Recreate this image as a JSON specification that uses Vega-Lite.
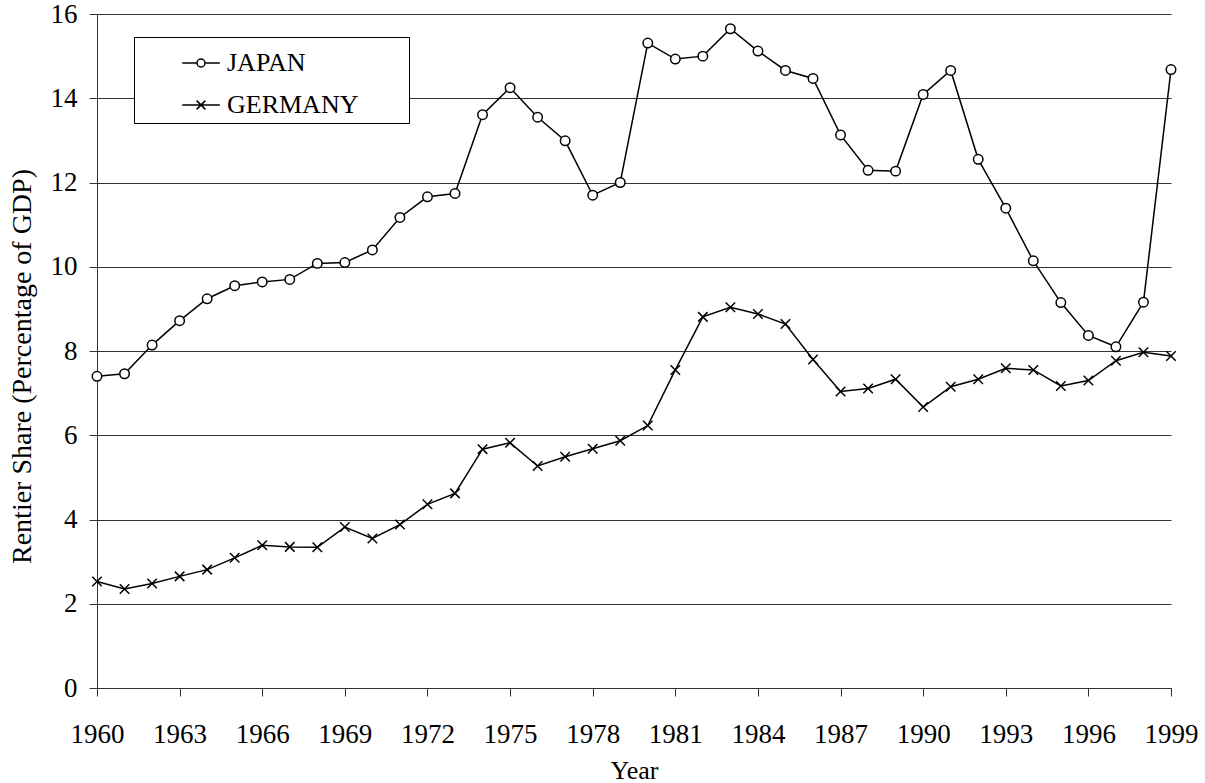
{
  "$schema": "https://vega.github.io/schema/vega-lite/v6.json",
  "width": 1074,
  "height": 674,
  "autosize": {"type": "none"},
  "padding": {"left": 97, "top": 14, "right": 34, "bottom": 95},
  "background": "white",
  "config": {"view": {"stroke": null}, "font": "Liberation Serif"},
  "datasets": {
    "rows": [
      {"year": 1960, "country": "JAPAN", "value": 7.40},
      {"year": 1961, "country": "JAPAN", "value": 7.46},
      {"year": 1962, "country": "JAPAN", "value": 8.14},
      {"year": 1963, "country": "JAPAN", "value": 8.72},
      {"year": 1964, "country": "JAPAN", "value": 9.24},
      {"year": 1965, "country": "JAPAN", "value": 9.55},
      {"year": 1966, "country": "JAPAN", "value": 9.64},
      {"year": 1967, "country": "JAPAN", "value": 9.70},
      {"year": 1968, "country": "JAPAN", "value": 10.08},
      {"year": 1969, "country": "JAPAN", "value": 10.10},
      {"year": 1970, "country": "JAPAN", "value": 10.40},
      {"year": 1971, "country": "JAPAN", "value": 11.17},
      {"year": 1972, "country": "JAPAN", "value": 11.66},
      {"year": 1973, "country": "JAPAN", "value": 11.74},
      {"year": 1974, "country": "JAPAN", "value": 13.61},
      {"year": 1975, "country": "JAPAN", "value": 14.25},
      {"year": 1976, "country": "JAPAN", "value": 13.55},
      {"year": 1977, "country": "JAPAN", "value": 12.99},
      {"year": 1978, "country": "JAPAN", "value": 11.70},
      {"year": 1979, "country": "JAPAN", "value": 12.00},
      {"year": 1980, "country": "JAPAN", "value": 15.31},
      {"year": 1981, "country": "JAPAN", "value": 14.93},
      {"year": 1982, "country": "JAPAN", "value": 15.00},
      {"year": 1983, "country": "JAPAN", "value": 15.65},
      {"year": 1984, "country": "JAPAN", "value": 15.12},
      {"year": 1985, "country": "JAPAN", "value": 14.66},
      {"year": 1986, "country": "JAPAN", "value": 14.47},
      {"year": 1987, "country": "JAPAN", "value": 13.13},
      {"year": 1988, "country": "JAPAN", "value": 12.29},
      {"year": 1989, "country": "JAPAN", "value": 12.27},
      {"year": 1990, "country": "JAPAN", "value": 14.09},
      {"year": 1991, "country": "JAPAN", "value": 14.66},
      {"year": 1992, "country": "JAPAN", "value": 12.55},
      {"year": 1993, "country": "JAPAN", "value": 11.39},
      {"year": 1994, "country": "JAPAN", "value": 10.14},
      {"year": 1995, "country": "JAPAN", "value": 9.15},
      {"year": 1996, "country": "JAPAN", "value": 8.37},
      {"year": 1997, "country": "JAPAN", "value": 8.10},
      {"year": 1998, "country": "JAPAN", "value": 9.16},
      {"year": 1999, "country": "JAPAN", "value": 14.68},
      {"year": 1960, "country": "GERMANY", "value": 2.53},
      {"year": 1961, "country": "GERMANY", "value": 2.35},
      {"year": 1962, "country": "GERMANY", "value": 2.48},
      {"year": 1963, "country": "GERMANY", "value": 2.65},
      {"year": 1964, "country": "GERMANY", "value": 2.81},
      {"year": 1965, "country": "GERMANY", "value": 3.09},
      {"year": 1966, "country": "GERMANY", "value": 3.39},
      {"year": 1967, "country": "GERMANY", "value": 3.35},
      {"year": 1968, "country": "GERMANY", "value": 3.34},
      {"year": 1969, "country": "GERMANY", "value": 3.82},
      {"year": 1970, "country": "GERMANY", "value": 3.55},
      {"year": 1971, "country": "GERMANY", "value": 3.88},
      {"year": 1972, "country": "GERMANY", "value": 4.36},
      {"year": 1973, "country": "GERMANY", "value": 4.62},
      {"year": 1974, "country": "GERMANY", "value": 5.67},
      {"year": 1975, "country": "GERMANY", "value": 5.82},
      {"year": 1976, "country": "GERMANY", "value": 5.27},
      {"year": 1977, "country": "GERMANY", "value": 5.49},
      {"year": 1978, "country": "GERMANY", "value": 5.68},
      {"year": 1979, "country": "GERMANY", "value": 5.87},
      {"year": 1980, "country": "GERMANY", "value": 6.23},
      {"year": 1981, "country": "GERMANY", "value": 7.55},
      {"year": 1982, "country": "GERMANY", "value": 8.81},
      {"year": 1983, "country": "GERMANY", "value": 9.04},
      {"year": 1984, "country": "GERMANY", "value": 8.88},
      {"year": 1985, "country": "GERMANY", "value": 8.64},
      {"year": 1986, "country": "GERMANY", "value": 7.80},
      {"year": 1987, "country": "GERMANY", "value": 7.04},
      {"year": 1988, "country": "GERMANY", "value": 7.11},
      {"year": 1989, "country": "GERMANY", "value": 7.33},
      {"year": 1990, "country": "GERMANY", "value": 6.67},
      {"year": 1991, "country": "GERMANY", "value": 7.15},
      {"year": 1992, "country": "GERMANY", "value": 7.33},
      {"year": 1993, "country": "GERMANY", "value": 7.59},
      {"year": 1994, "country": "GERMANY", "value": 7.55},
      {"year": 1995, "country": "GERMANY", "value": 7.17},
      {"year": 1996, "country": "GERMANY", "value": 7.30},
      {"year": 1997, "country": "GERMANY", "value": 7.77},
      {"year": 1998, "country": "GERMANY", "value": 7.97},
      {"year": 1999, "country": "GERMANY", "value": 7.88}
    ]
  },
  "data": {"name": "rows"},
  "encoding": {
    "x": {
      "field": "year",
      "type": "quantitative",
      "scale": {"domain": [1960, 1999], "nice": false, "zero": false},
      "axis": {
        "values": [1960, 1963, 1966, 1969, 1972, 1975, 1978, 1981, 1984, 1987, 1990, 1993, 1996, 1999],
        "format": "d",
        "grid": false,
        "title": "Year",
        "labelFont": "Liberation Serif",
        "labelFontSize": 27,
        "labelColor": "black",
        "labelPadding": 25,
        "labelFlush": false,
        "labelOverlap": false,
        "tickSize": 8,
        "tickColor": "#333",
        "domainColor": "#333",
        "titleFont": "Liberation Serif",
        "titleFontSize": 26,
        "titleFontWeight": "normal",
        "titleColor": "black",
        "titleY": 90,
        "titleBaseline": "alphabetic"
      }
    },
    "y": {
      "field": "value",
      "type": "quantitative",
      "scale": {"domain": [0, 16], "nice": false},
      "axis": {
        "values": [0, 2, 4, 6, 8, 10, 12, 14, 16],
        "grid": true,
        "gridColor": "#333",
        "gridOpacity": 1,
        "title": "Rentier Share (Percentage of GDP)",
        "labelFont": "Liberation Serif",
        "labelFontSize": 27,
        "labelColor": "black",
        "labelPadding": 12,
        "labelOverlap": false,
        "tickSize": 8,
        "tickColor": "#333",
        "domainColor": "#333",
        "titleFont": "Liberation Serif",
        "titleFontSize": 28,
        "titleFontWeight": "normal",
        "titleColor": "black",
        "titleX": -67,
        "titleY": 352,
        "titleBaseline": "alphabetic"
      }
    }
  },
  "layer": [
    {
      "mark": {"type": "line", "color": "black", "strokeWidth": 1.5},
      "encoding": {"detail": {"field": "country", "type": "nominal"}}
    },
    {
      "mark": {"type": "point", "filled": true, "fill": "white", "stroke": "black", "strokeWidth": 1.5, "size": 90, "opacity": 1},
      "encoding": {
        "shape": {
          "field": "country",
          "type": "nominal",
          "scale": {"domain": ["JAPAN", "GERMANY"], "range": ["circle", "M-1,-1L1,1M-1,1L1,-1"]},
          "legend": null
        }
      }
    },
    {
      "transform": [{"filter": "datum.year < 0"}],
      "mark": {"type": "point", "filled": false, "color": "black", "strokeWidth": 1.5, "opacity": 1},
      "encoding": {
        "shape": {
          "field": "country",
          "type": "nominal",
          "scale": {
            "domain": ["JAPAN", "GERMANY"],
            "range": ["M-4.7,0H-1M1,0H4.7M1,0A1,1,0,1,1,-1,0A1,1,0,1,1,1,0", "M-4.7,0H4.7M-1.1,-1.1L1.1,1.1M-1.1,1.1L1.1,-1.1"]
          },
          "legend": {
            "orient": "none",
            "legendX": 37,
            "legendY": 23,
            "title": " ",
            "titleFontSize": 1,
            "titlePadding": 7,
            "padding": 5,
            "strokeColor": "#000",
            "fillColor": "white",
            "symbolSize": 64,
            "symbolStrokeWidth": 1.5,
            "symbolStrokeColor": "black",
            "symbolOpacity": 1,
            "symbolOffset": 49,
            "labelOffset": 13,
            "labelFont": "Liberation Serif",
            "labelFontSize": 26,
            "labelColor": "black",
            "labelLimit": 400,
            "rowPadding": 16,
            "labelExpr": "datum.label + '\u00a0\u00a0\u00a0\u00a0\u00a0\u00a0\u00a0\u200b'"
          }
        }
      }
    }
  ],
  "resolve": {"scale": {"shape": "independent"}, "legend": {"shape": "independent"}}
}
